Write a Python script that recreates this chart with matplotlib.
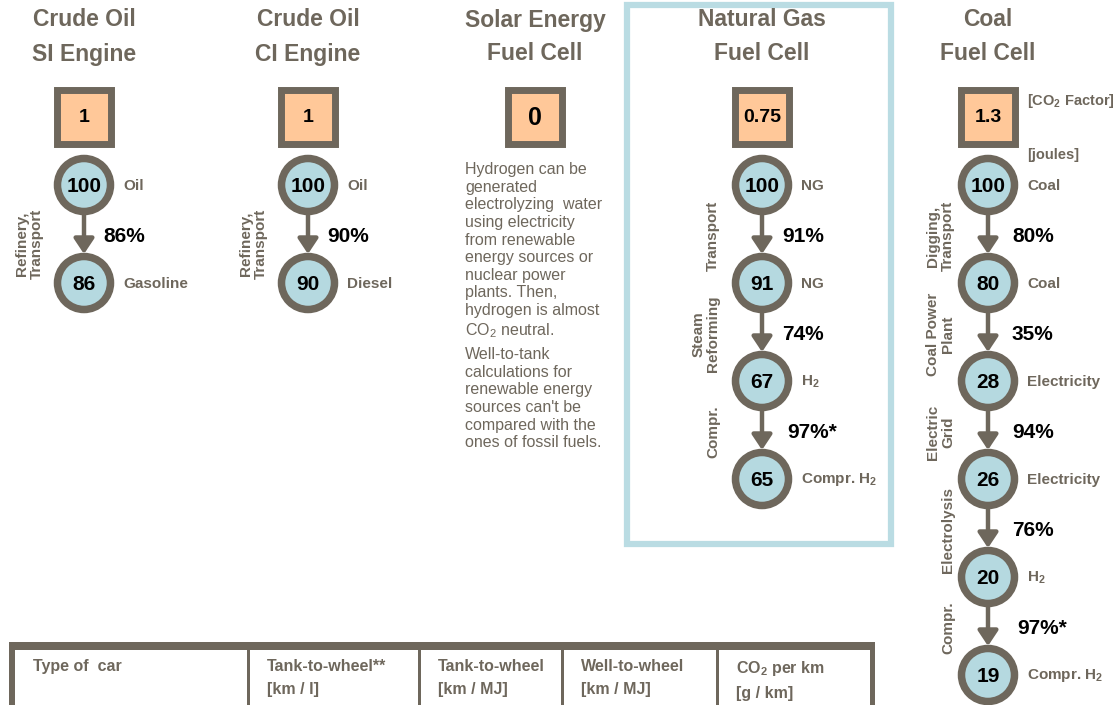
import matplotlib
matplotlib.use("Agg")
import matplotlib.pyplot as plt
from matplotlib.patches import Circle, Rectangle

plt.rcParams['font.family'] = ['Liberation Sans', 'DejaVu Sans']

# colours
GRAY = '#6e675c'
PEACH = '#ffc899'
BLUE = '#b5d9e0'
FRAME = '#badce3'

# data
title_top = ["Crude Oil", "Crude Oil", "Solar Energy", "Natural Gas", "Coal"]
title_bottom = ["SI Engine", "CI Engine", "Fuel Cell", "Fuel Cell", "Fuel Cell"]
co2_factor = ["1", "1", "0", "0.75", "1.3"]

si_values = [100, 86]
si_labels = ["Oil", "Gasoline"]
si_eff = ["86%"]
si_steps = ["Refinery,\nTransport"]

ci_values = [100, 90]
ci_labels = ["Oil", "Diesel"]
ci_eff = ["90%"]
ci_steps = ["Refinery,\nTransport"]

ng_values = [100, 91, 67, 65]
ng_labels = ["NG", "NG", r"H$\mathregular{_2}$", r"Compr. H$\mathregular{_2}$"]
ng_eff = ["91%", "74%", "97%*"]
ng_steps = ["Transport", "Steam\nReforming", "Compr."]

coal_values = [100, 80, 28, 26, 20, 19]
coal_labels = ["Coal", "Coal", "Electricity", "Electricity", r"H$\mathregular{_2}$",
               r"Compr. H$\mathregular{_2}$"]
coal_eff = ["80%", "35%", "94%", "76%", "97%*"]
coal_steps = ["Digging,\nTransport", "Coal Power\nPlant", "Electric\nGrid", "Electrolysis", "Compr."]

solar_text = ("Hydrogen can be\ngenerated\nelectrolyzing  water\nusing electricity\n"
              "from renewable\nenergy sources or\nnuclear power\nplants. Then,\n"
              "hydrogen is almost\nCO$\\mathregular{_2}$ neutral.")
solar_text2 = ("Well-to-tank\ncalculations for\nrenewable energy\nsources can't be\n"
               "compared with the\nones of fossil fuels.")

table_headers = ["Type of  car", "Tank-to-wheel**\n[km / l]", "Tank-to-wheel\n[km / MJ]",
                 "Well-to-wheel\n[km / MJ]", "CO$\\mathregular{_2}$ per km\n[g / km]"]

# layout
col_x = [84, 308, 535, 762, 988]
node_y0 = 185
node_dy = 98

fig = plt.figure(figsize=(11.2, 7.05), dpi=100)
ax = fig.add_axes([0, 0, 1, 1])
ax.set_xlim(0, 1120)
ax.set_ylim(705, 0)
ax.axis('off')

# highlight frame around natural gas column
ax.add_patch(Rectangle((627, 5), 264, 539, fill=False, ec=FRAME, lw=4.5))

# titles and CO2 factor boxes
for i, x in enumerate(col_x):
    ax.text(x, 20, title_top[i], ha='center', va='center', fontsize=16.5,
            fontweight='bold', color=GRAY)
    ax.text(x, 54, title_bottom[i], ha='center', va='center', fontsize=16.5,
            fontweight='bold', color=GRAY)
    ax.add_patch(Rectangle((x - 27, 90), 54, 54, fc=PEACH, ec=GRAY, lw=5))
    fs = 18 if co2_factor[i] == "0" else 14
    ax.text(x, 118, co2_factor[i], ha='center', va='center', fontsize=fs,
            fontweight='bold', color='black')

ax.text(1027, 101, "[CO$\\mathregular{_2}$ Factor]", ha='left', va='center',
        fontsize=10.5, fontweight='bold', color=GRAY)
ax.text(1027, 155, "[joules]", ha='left', va='center', fontsize=10.5,
        fontweight='bold', color=GRAY)


def draw_chain(x, values, labels, effs, steps, eff_dx, step_dx, step_dy):
    ys = [node_y0 + k * node_dy for k in range(len(values))]
    for k in range(len(values) - 1):
        ax.annotate("", xy=(x, ys[k + 1] - 29), xytext=(x, ys[k] + 30),
                    arrowprops=dict(arrowstyle='-|>,head_length=0.9,head_width=0.6',
                                    color=GRAY, lw=3.2, shrinkA=0, shrinkB=0))
        ym = (ys[k] + ys[k + 1]) / 2
        dx = eff_dx + (5 if effs[k].endswith('*') else 0)
        ax.text(x + dx, ym + 3, effs[k], ha='left', va='center', fontsize=15,
                fontweight='bold', color='black')
        ax.text(x - step_dx, ym + step_dy, steps[k], ha='right', va='center', rotation=90,
                multialignment='center', fontsize=11, fontweight='bold',
                color=GRAY, linespacing=1.05)
    for k, v in enumerate(values):
        ax.add_patch(Circle((x, ys[k]), 26.5, fc=BLUE, ec=GRAY, lw=5.4, zorder=3))
        ax.text(x, ys[k] + 1, str(v), ha='center', va='center', fontsize=15,
                fontweight='bold', color='black', zorder=4)
        ax.text(x + 39, ys[k] + 1, labels[k], ha='left', va='center', fontsize=11,
                fontweight='bold', color=GRAY)


draw_chain(col_x[0], si_values, si_labels, si_eff, si_steps, 19, 40, 10)
draw_chain(col_x[1], ci_values, ci_labels, ci_eff, ci_steps, 19, 40, 10)
draw_chain(col_x[3], ng_values, ng_labels, ng_eff, ng_steps, 20, 42, 2)
draw_chain(col_x[4], coal_values, coal_labels, coal_eff, coal_steps, 24, 33, 2)

# solar column text
ax.text(465, 162, solar_text, ha='left', va='top', fontsize=11.5, color=GRAY,
        linespacing=1.22)
ax.text(465, 347, solar_text2, ha='left', va='top', fontsize=11.5, color=GRAY,
        linespacing=1.22)

# table header
ax.add_patch(Rectangle((9, 642), 866, 8, fc=GRAY, ec='none'))
ax.add_patch(Rectangle((9, 642), 6, 70, fc=GRAY, ec='none'))
ax.add_patch(Rectangle((870, 642), 5, 70, fc=GRAY, ec='none'))
cell_left = [9, 247, 418, 561, 716]
for cx in cell_left[1:]:
    ax.add_patch(Rectangle((cx, 650), 3, 60, fc=GRAY, ec='none'))
for cx, h in zip(cell_left, table_headers):
    ax.text(cx + 24 if cx == 9 else cx + 20, 659, h, ha='left', va='top',
            fontsize=11.5, fontweight='bold', color=GRAY, linespacing=1.7)

fig.savefig("out.png", dpi=100)
